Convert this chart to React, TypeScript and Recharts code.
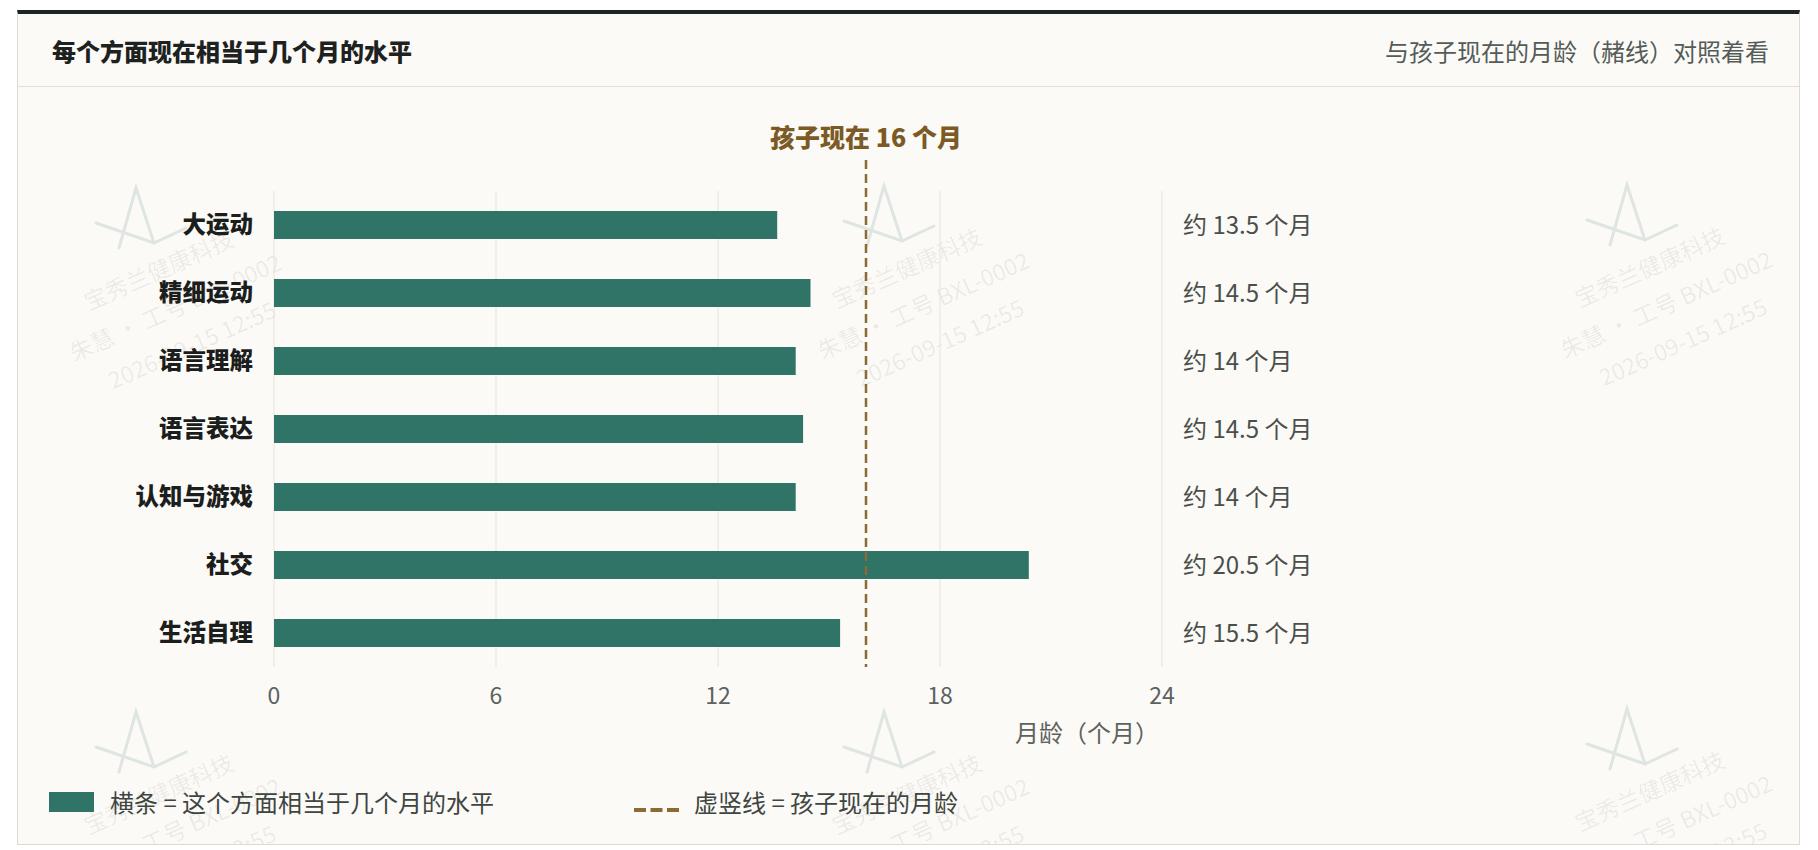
import { BarChart, Bar, XAxis, YAxis, CartesianGrid, ReferenceLine } from "recharts";

const categories = ["大运动", "精细运动", "语言理解", "语言表达", "认知与游戏", "社交", "生活自理"];
const levelMonths = [13.6, 14.5, 14.1, 14.3, 14.1, 20.4, 15.3];
const levelLabels = [
  "约 13.5 个月",
  "约 14.5 个月",
  "约 14 个月",
  "约 14.5 个月",
  "约 14 个月",
  "约 20.5 个月",
  "约 15.5 个月",
];
const monthTicks = [0, 6, 12, 18, 24];
const CURRENT_AGE = 16;

const watermarkLines = ["宝秀兰健康科技", "朱慧 · 工号 BXL-0002", "2026-09-15 12:55"];
const watermarkSpots = [
  [121, 202],
  [869, 200],
  [1612, 199],
  [121, 726],
  [869, 726],
  [1612, 723],
];

const FONT = '"Noto Sans CJK SC", "Noto Sans", sans-serif';
const BAR = "#2f7466";
const OCHRE = "#8a6a35";

const rows = categories.map((name, i) => ({ name, months: levelMonths[i] }));

// dashed current-age line, pulled up above the plot so the label sits over it
const AgeLine = (props: any) => {
  const { x1, y1, y2 } = props;
  const top = Math.min(y1, y2) - 31;
  const bottom = Math.max(y1, y2);
  return (
    <g>
      <line x1={x1} y1={top} x2={x1} y2={bottom} stroke={OCHRE} strokeWidth={2.5} strokeDasharray="9 5" />
      <text x={x1} y={top - 13} textAnchor="middle" fill="#7b5a26" fontSize={25} fontWeight={800} fontFamily={FONT}>
        {`孩子现在 ${CURRENT_AGE} 个月`}
      </text>
    </g>
  );
};

const axisLabel = (props: any) => {
  const vb = props.viewBox || {};
  return (
    <text x={vb.x + vb.width - 3} y={vb.y + 75} textAnchor="end" fill="#5c625e" fontSize={24} fontFamily={FONT}>
      月龄（个月）
    </text>
  );
};

function Watermarks() {
  return (
    <svg width={1781} height={830} style={{ position: "absolute", left: 0, top: 0, pointerEvents: "none" }}>
      {watermarkSpots.map(([cx, cy], k) => (
        <g key={k} transform={`translate(${cx},${cy})`}>
          <g stroke="#dfe5e1" strokeWidth={3} fill="none" strokeLinecap="round">
            <polyline points="-20,32 -3,-28 15,27" />
            <polyline points="-43,7 15,27 47,12" />
          </g>
          <g transform="rotate(-24)" fill="#000" fillOpacity={0.07} fontSize={23} fontFamily={FONT} textAnchor="middle">
            {watermarkLines.map((t, i) => (
              <text key={i} x={-4} y={66 + i * 41}>
                {t}
              </text>
            ))}
          </g>
        </g>
      ))}
    </svg>
  );
}

export default function App() {
  return (
    <div style={{ paddingTop: 2, paddingLeft: 9, fontFamily: FONT }}>
      <div
        style={{
          position: "relative",
          boxSizing: "border-box",
          width: 1783,
          height: 835,
          background: "#fbfaf7",
          borderTop: "4px solid #1c2521",
          borderLeft: "1px solid #dedad2",
          borderRight: "1px solid #dedad2",
          borderBottom: "1px solid #dedad2",
          overflow: "hidden",
        }}
      >
        <Watermarks />
        <div
          style={{
            position: "relative",
            height: 73,
            boxSizing: "border-box",
            borderBottom: "1.5px solid #e2ded6",
            display: "flex",
            alignItems: "center",
            justifyContent: "space-between",
            padding: "0 30px 0 34px",
          }}
        >
          <span style={{ fontSize: 24, fontWeight: 800, color: "#1d2220" }}>每个方面现在相当于几个月的水平</span>
          <span style={{ fontSize: 24, color: "#555b57" }}>与孩子现在的月龄（赭线）对照着看</span>
        </div>

        <div style={{ position: "absolute", left: 0, top: 100 }}>
          <BarChart
            width={1426}
            height={633}
            data={rows}
            layout="vertical"
            margin={{ top: 77, right: 0, bottom: 0, left: 0 }}
          >
            <CartesianGrid horizontal={false} stroke="#e8e4dc" yAxisId="left" />
            <XAxis
              type="number"
              domain={[0, 24]}
              ticks={monthTicks}
              axisLine={false}
              tickLine={false}
              tickMargin={15}
              height={80}
              tick={{ fill: "#5c625e", fontSize: 23, fontFamily: FONT }}
              label={axisLabel}
            />
            <YAxis
              yAxisId="left"
              type="category"
              dataKey="name"
              width={256}
              axisLine={false}
              tickLine={false}
              tickMargin={15}
              tick={{ fill: "#1b1e1d", fontSize: 23.5, fontWeight: 800, fontFamily: FONT }}
            />
            <YAxis
              yAxisId="right"
              orientation="right"
              type="category"
              dataKey="name"
              width={282}
              axisLine={false}
              tickLine={false}
              tickMargin={15}
              tickFormatter={(_v: any, i: number) => levelLabels[i]}
              tick={{ fill: "#4a4f4c", fontSize: 24, fontFamily: FONT }}
            />
            <Bar yAxisId="left" dataKey="months" fill={BAR} barSize={28} isAnimationActive={false} />
            <ReferenceLine yAxisId="left" x={CURRENT_AGE} shape={AgeLine} />
          </BarChart>
        </div>

        <div style={{ position: "absolute", left: 31, top: 778, width: 45, height: 20, background: BAR }} />
        <div style={{ position: "absolute", left: 92, top: 787, transform: "translateY(-50%)", fontSize: 24, color: "#3f4541", whiteSpace: "nowrap" }}>
          横条 = 这个方面相当于几个月的水平
        </div>
        <svg width={45} height={4} style={{ position: "absolute", left: 616, top: 794 }}>
          <line x1={0} y1={2} x2={45} y2={2} stroke={OCHRE} strokeWidth={4} strokeDasharray="12 4.5" />
        </svg>
        <div style={{ position: "absolute", left: 676, top: 787, transform: "translateY(-50%)", fontSize: 24, color: "#3f4541", whiteSpace: "nowrap" }}>
          虚竖线 = 孩子现在的月龄
        </div>
      </div>
    </div>
  );
}
